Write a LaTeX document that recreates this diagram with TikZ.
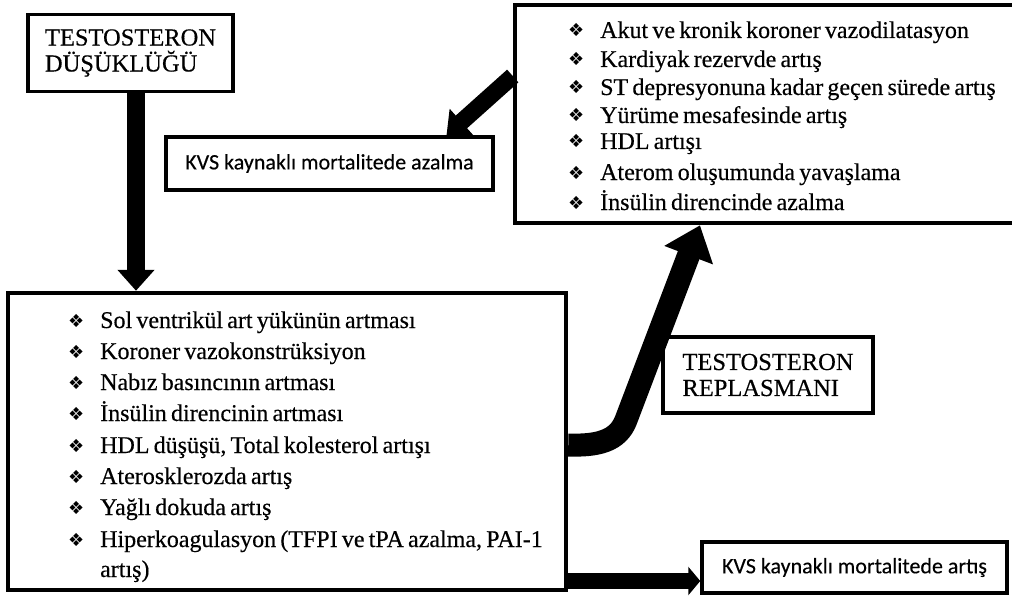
\documentclass[tikz,border=0pt]{standalone}
\usepackage{fontspec}
\setmainfont{Liberation Serif}[WordSpace=0.7, FakeBold=0.4]
\newfontfamily\sansf{Carlito}[FakeBold=0.3]
\newfontfamily\dejavu{DejaVu Sans}
\usetikzlibrary{arrows.meta}
\newcommand{\mybul}{\makebox[32pt][l]{\raisebox{1pt}{\dejavu\fontsize{18}{18}\selectfont ❖}}}
\tikzset{
  box/.style={draw=black, line width=3.5pt, inner sep=0pt, fill=white},
  bigbox/.style={draw=black, line width=4.5pt, inner sep=0pt},
  serift/.style={font=\fontsize{24.5}{26}\selectfont, align=left},
  sanst/.style={font=\sansf\fontsize{22}{24}\selectfont},
  listline/.style={anchor=base west, inner sep=0pt, font=\fontsize{24}{26}\selectfont},
  fatarrow/.style={line width=#1, draw=black}
}
\begin{document}
\begin{tikzpicture}[x=1pt,y=-1pt]
\useasboundingbox (0,0) rectangle (1012,599);
% boxes
\node[box, serift, minimum width=205pt, minimum height=77pt] (td) at (130.5,53) {TESTOSTERON\\DÜŞÜKLÜĞÜ};
\node[box, sanst, minimum width=327pt, minimum height=53pt] (kvsA) at (329.5,163.5) {KVS kaynaklı mortalitede azalma};
\node[bigbox, minimum width=505pt, minimum height=218pt] (tr) at (767.5,114) {};
\node[bigbox, minimum width=558pt, minimum height=297pt] (lb) at (287,441.5) {};
\node[box, serift, minimum width=210pt, minimum height=76pt] (repl) at (768,375) {TESTOSTERON\\REPLASMANI};
\node[box, sanst, minimum width=305pt, minimum height=51pt] (kvsB) at (854.5,567.5) {KVS kaynaklı mortalitede artış};
% top-right list
\node[listline] (t1) at (568,38) {\mybul Akut ve kronik koroner vazodilatasyon};
\node[listline] (t2) at (568,67) {\mybul Kardiyak rezervde artış};
\node[listline] (t3) at (568,95) {\mybul ST depresyonuna kadar geçen sürede artış};
\node[listline] (t4) at (568,123) {\mybul Yürüme mesafesinde artış};
\node[listline] (t5) at (568,149) {\mybul HDL artışı};
\node[listline] (t6) at (568,180) {\mybul Aterom oluşumunda yavaşlama};
\node[listline] (t7) at (568,210) {\mybul İnsülin direncinde azalma};
% bottom-left list
\node[listline] (b1) at (68,328) {\mybul Sol ventrikül art yükünün artması};
\node[listline] (b2) at (68,359) {\mybul Koroner vazokonstrüksiyon};
\node[listline] (b3) at (68,390) {\mybul Nabız basıncının artması};
\node[listline] (b4) at (68,421) {\mybul İnsülin direncinin artması};
\node[listline] (b5) at (68,453) {\mybul HDL düşüşü, Total kolesterol artışı};
\node[listline] (b6) at (68,484) {\mybul Aterosklerozda artış};
\node[listline] (b7) at (68,515) {\mybul Yağlı dokuda artış};
\node[listline] (b8) at (68,547) {\mybul Hiperkoagulasyon (TFPI ve tPA azalma, PAI-1};
\node[listline] (b9) at (100,577) {artış)};
% arrows
\draw[fatarrow=18pt, -{Triangle[width=36pt,length=21pt]}]
  ([xshift=5.5pt]td.south) -- ([xshift=5.5pt]td.south |- lb.north);
\draw[fatarrow=17pt, -{Triangle[width=34pt,length=20pt]}]
  ([yshift=38pt]tr.west) -- ([xshift=117pt]kvsA.north);
\coordinate (bend) at (626,420);
\draw[fatarrow=23pt, -{Triangle[width=50pt,length=32pt]}]
  ([yshift=-3.5pt]lb.east) .. controls (598,446) and (618,441) .. (bend) -- ([xshift=-67.5pt]tr.south);
\draw[fatarrow=16pt, -{Triangle[width=28pt,length=12pt]}]
  ([yshift=-139.5pt]lb.east) -- ([yshift=-139.5pt]lb.east -| kvsB.west);
\end{tikzpicture}
\end{document}
